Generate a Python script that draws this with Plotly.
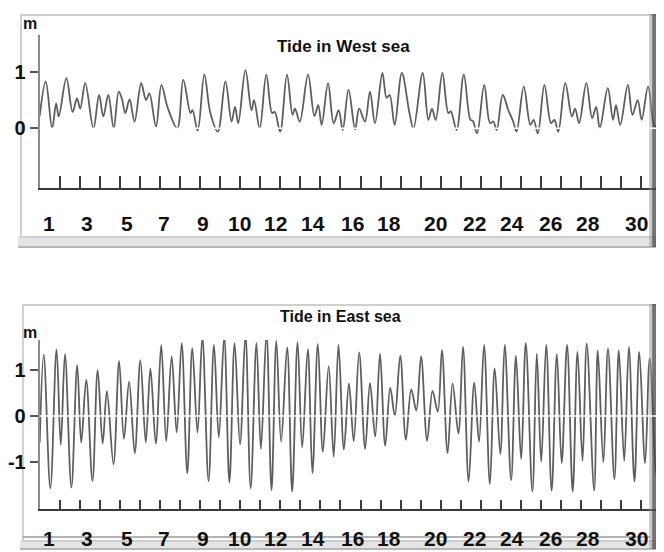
import plotly.graph_objects as go

W, H = 664, 552          # browser window
OFF = 8                  # page body margin of the html page
FW, FH = W - OFF, H - OFF  # figure size so that it fills the window

# ---------------- data ----------------
west_day = [0.00, 0.30, 0.62, 0.82, 0.95, 1.33, 1.64, 1.86, 2.02, 2.27, 2.68, 2.96, 3.17, 3.42,
            3.69, 3.94, 4.10, 4.27, 4.48, 4.73, 5.06, 5.30, 5.47, 5.80, 6.07, 6.37, 6.86, 7.16,
            7.52, 7.62, 7.88, 8.21, 8.51, 8.88, 9.26, 9.57, 9.74, 9.90, 10.26, 10.56, 10.69,
            10.97, 11.30, 11.59, 11.72, 11.99, 12.33, 12.61, 12.73, 12.97, 13.38, 13.70, 13.89,
            14.06, 14.38, 14.66, 14.91, 15.11, 15.40, 15.73, 15.93, 16.22, 16.47, 16.72, 17.09,
            17.30, 17.45, 17.70, 18.06, 18.44, 18.64, 19.10, 19.38, 19.56, 19.75, 20.08, 20.38,
            20.50, 20.79, 21.15, 21.48, 21.60, 21.81, 22.17, 22.46, 22.62, 22.79, 23.09, 23.37,
            23.61, 23.78, 24.14, 24.47, 24.63, 24.84, 25.17, 25.50, 25.67, 25.86, 26.21, 26.54,
            26.70, 26.90, 27.26, 27.55, 27.75, 27.93, 28.33, 28.59, 28.74, 28.95, 29.33, 29.56,
            29.82, 30.02, 30.34, 30.67, 31.13]
west_level = [0.22, 0.83, 0.00, 0.44, 0.21, 0.89, 0.29, 0.53, 0.35, 0.80, 0.00, 0.59, 0.21, 0.59,
              0.00, 0.65, 0.52, 0.27, 0.51, 0.12, 0.80, 0.50, 0.62, 0.03, 0.77, 0.38, 0.00, 0.86,
              0.27, 0.32, -0.04, 0.95, 0.27, -0.06, 0.83, 0.12, 0.38, 0.09, 1.03, 0.32, 0.50,
              0.00, 0.95, 0.27, 0.29, -0.06, 0.95, 0.24, 0.35, 0.12, 0.95, 0.22, 0.41,
              0.06, 0.80, 0.09, 0.32, -0.03, 0.68, -0.02, 0.35, 0.12, 0.65, 0.09, 0.98,
              0.54, 0.59, 0.06, 0.98, 0.27, 0.00, 0.98, 0.15, 0.35, 0.15, 0.98, 0.27,
              0.30, -0.03, 0.95, 0.15, 0.13, -0.09, 0.77, 0.09, 0.12, -0.03, 0.59, 0.32,
              0.12, -0.06, 0.74, 0.06, 0.15, -0.09, 0.77, 0.09, 0.15, -0.06, 0.80, 0.21,
              0.35, 0.09, 0.80, 0.18, 0.38, 0.00, 0.71, 0.15, 0.41, 0.06, 0.77, 0.24,
              0.50, 0.15, 0.74, 0.03, 0.40]

east_day = [0.00, 0.20, 0.53, 0.84, 1.05, 1.26, 1.58, 1.87, 2.07, 2.32, 2.63, 2.89, 3.14, 3.35,
            3.68, 3.96, 4.20, 4.46, 4.74, 5.02, 5.29, 5.52, 5.79, 6.06, 6.31, 6.58, 6.83, 7.08,
            7.36, 7.61, 7.87, 8.11, 8.42, 8.69, 8.93, 9.20, 9.46, 9.72, 9.99, 10.26, 10.52,
            10.81, 11.03, 11.31, 11.56, 11.80, 12.04, 12.34, 12.59, 12.86, 13.09, 13.37, 13.60,
            13.87, 14.12, 14.41, 14.66, 14.90, 15.17, 15.42, 15.66, 15.93, 16.23, 16.47, 16.73,
            16.97, 17.23, 17.48, 17.71, 17.98, 18.26, 18.53, 18.78, 19.02, 19.32, 19.59, 19.85,
            20.06, 20.34, 20.59, 20.88, 21.11, 21.39, 21.67, 21.91, 22.16, 22.45, 22.69, 22.97,
            23.19, 23.51, 23.75, 24.01, 24.24, 24.57, 24.79, 25.01, 25.26, 25.53, 25.79, 26.03,
            26.30, 26.58, 26.82, 27.07, 27.28, 27.65, 27.83, 28.11, 28.34, 28.66, 28.88, 29.15,
            29.38, 29.66, 29.90, 30.19, 30.42, 30.76, 31.02, 31.13]
east_level = [-0.58, 1.34, -1.58, 1.45, -0.63, 1.35, -1.56, 1.11, -0.58, 0.79, -1.42, 1.00, -0.60, 0.54,
              -1.05, 1.20, -0.50, 0.75, -0.81, 1.22, -0.58, 1.04, -0.60, 1.55, -0.55, 1.30, -0.36, 1.59,
              -1.25, 1.48, -0.36, 1.72, -1.42, 1.55, -0.47, 1.73, -1.45, 1.59, -0.62, 1.77, -1.58,
              1.59, -0.72, 1.81, -1.62, 1.64, -0.56, 1.50, -1.65, 1.62, -0.69, 1.46, -1.25,
              1.57, -0.78, 1.09, -0.89, 1.56, -0.73, 0.71, -0.55, 1.39, -0.72, 0.72, -0.45,
              1.36, -0.65, 0.62, 0.00, 1.32, -0.52, 0.58, 0.12, 1.30, -0.54, 0.55, 0.09,
              1.44, -0.81, 0.71, -0.38, 1.51, -1.43, 0.73, -0.56, 1.55, -1.49, 1.04, -0.83,
              1.55, -1.40, 1.31, -0.94, 1.59, -1.65, 1.36, -1.00, 1.55, -1.63, 1.35, -1.03,
              1.55, -1.65, 1.40, -0.98, 1.58, -1.63, 1.43, -1.01, 1.47, -1.38, 1.43, -0.98,
              1.51, -1.43, 1.40, -1.03, 1.26, -1.32, 1.30, 1.10]

day_ticks = list(range(1, 31))
day_label_text = ["1", "3", "5", "7", "9", "10", "12", "14", "16", "18", "20", "22", "24", "26", "28", "30"]
day_label_pos = [0.48, 2.36, 4.33, 6.21, 8.16, 9.95, 11.76, 13.65, 15.58, 17.42, 19.72, 21.66,
                 23.55, 25.47, 27.35, 29.74]
west_yticks = [0, 1]
east_yticks = [-1, 0, 1]
titles = ["Tide in West sea", "Tide in East sea"]
unit = "m"

# ---------------- layout helpers (window pixels -> paper) ----------------
def fx(px):
    return (px - OFF) / FW


def fy(py):
    return 1 - (py - OFF) / FH


FONT = "Liberation Sans, Arial, sans-serif"
LINE_COL = "#5e5e5e"

fig = go.Figure()
fig.add_trace(go.Scatter(x=west_day, y=west_level, mode="lines", xaxis="x", yaxis="y",
                         line=dict(color=LINE_COL, width=1.8, shape="spline", smoothing=1.0),
                         showlegend=False, hoverinfo="skip"))
fig.add_trace(go.Scatter(x=east_day, y=east_level, mode="lines", xaxis="x2", yaxis="y2",
                         line=dict(color=LINE_COL, width=1.8, shape="spline", smoothing=1.0),
                         showlegend=False, hoverinfo="skip"))

xrange = [0, (W - 32) / 20.3]
xdom = [fx(32), 1.0]
common_x = dict(range=xrange, domain=xdom, showgrid=False, zeroline=False,
                showline=True, linecolor="#3a3a3a", linewidth=2,
                tickmode="array", tickvals=day_ticks, showticklabels=False,
                ticks="inside", tickcolor="#3a3a3a", tickwidth=1.5)
common_y = dict(showgrid=False, zeroline=False, showline=True, linecolor="#8a8a8a", linewidth=2,
                ticks="outside", ticklen=8, tickcolor="#555", tickwidth=1.5,
                tickfont=dict(family=FONT, size=20, color="#111", weight="bold"),
                tickmode="array")

fig.update_layout(
    width=FW, height=FH, margin=dict(l=0, r=0, t=0, b=0),
    paper_bgcolor="white", plot_bgcolor="rgba(0,0,0,0)",
    xaxis=dict(**common_x, anchor="y", ticklen=12),
    yaxis=dict(**common_y, anchor="x", domain=[fy(188.3), fy(35)],
               range=[-1.064, 1.654], tickvals=west_yticks,
               ticktext=[str(v) for v in west_yticks]),
    xaxis2=dict(**common_x, anchor="y2", ticklen=9),
    yaxis2=dict(**common_y, anchor="x2", domain=[fy(509.3), fy(340)],
                range=[-2.037, 1.659], tickvals=east_yticks,
                ticktext=[str(v) for v in east_yticks]),
)

shapes = []


def rect(x0, y0, x1, y1, fill=None, line=None, lw=0, layer="below"):
    d = dict(type="rect", xref="paper", yref="paper", x0=fx(x0), x1=fx(x1), y0=fy(y1), y1=fy(y0),
             layer=layer, line=dict(width=lw, color=line or "rgba(0,0,0,0)"))
    if fill:
        d["fillcolor"] = fill
    shapes.append(d)


def hline(x0, x1, y, color, w, layer="below"):
    shapes.append(dict(type="line", xref="paper", yref="paper", x0=fx(x0), x1=fx(x1),
                       y0=fy(y), y1=fy(y), layer=layer, line=dict(color=color, width=w)))


# frames (top panel)
rect(10, 236, 662, 248, fill="#e4e4e4")
hline(10, 662, 247, "#a8a8a8", 1.5)
rect(13, 15, 657, 237, line="#cfcfcf", lw=2)
# frames (bottom panel)
rect(12, 540, 662, 550, fill="#e4e4e4")
hline(12, 662, 549, "#a8a8a8", 1.5)
rect(15, 305, 657, 541, line="#cfcfcf", lw=2)
hline(15, 650, 537, "#9a9a9a", 1.5)
# dark bevel on the right side of both frames
for top, bot in ((14, 247), (304, 549)):
    rect(649, top, 652, bot, fill="rgba(150,150,150,0.5)", layer="above")
    rect(652, top, 657, bot, fill="rgba(70,70,70,0.75)", layer="above")
    rect(657, top, 660, bot, fill="rgba(140,140,140,0.5)", layer="above")

# white zero lines drawn above the curves
for xr, yr in (("x domain", "y"), ("x2 domain", "y2")):
    shapes.append(dict(type="line", xref=xr, yref=yr, x0=0, x1=1, y0=0, y1=0, layer="above",
                       line=dict(color="white", width=1.5)))

fig.update_layout(shapes=shapes)

ann = []
for xref, ypx in (("x", 224), ("x2", 538)):
    for pos, txt in zip(day_label_pos, day_label_text):
        ann.append(dict(x=pos, y=fy(ypx), xref=xref, yref="paper", text=txt, showarrow=False,
                        xanchor="center", yanchor="middle",
                        font=dict(family=FONT, size=21, color="#111", weight="bold")))
ann.append(dict(x=fx(340), y=fy(47), xref="paper", yref="paper", text=titles[0], showarrow=False,
                xanchor="center", yanchor="middle",
                font=dict(family=FONT, size=17, color="#111", weight="bold")))
ann.append(dict(x=fx(337), y=fy(316), xref="paper", yref="paper", text=titles[1], showarrow=False,
                xanchor="center", yanchor="middle",
                font=dict(family=FONT, size=16, color="#111", weight="bold")))
for ypx in (23, 332):
    ann.append(dict(x=fx(22), y=fy(ypx), xref="paper", yref="paper", text=unit, showarrow=False,
                    xanchor="center", yanchor="middle",
                    font=dict(family=FONT, size=16, color="#111", weight="bold")))
fig.update_layout(annotations=ann)

fig.write_html("out.html")
